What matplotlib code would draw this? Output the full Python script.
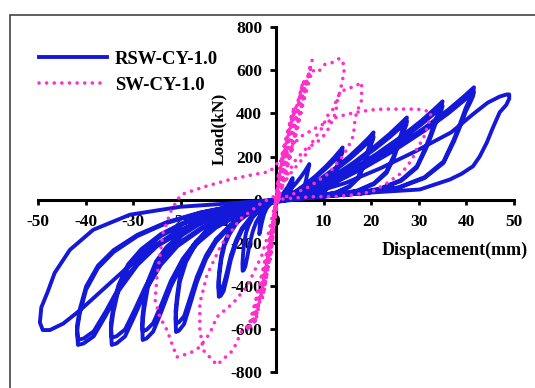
import numpy as np
import matplotlib.pyplot as plt
from matplotlib.patches import Rectangle

plt.rcParams['font.family'] = ['Liberation Serif', 'DejaVu Serif']
plt.rcParams['font.weight'] = 'bold'
plt.rcParams['axes.unicode_minus'] = False

# ---------------------------------------------------------------
# RSW-CY-1.0 : each cycle as displacement (mm) / load (kN)
# ---------------------------------------------------------------
rsw_3mm_x = [0, 0.7, 1.6, 2.5, 3.1, 3.5, 3.4, 3.2, 2.8, 2.3, 1.4, 0.5, 0,
             -0.9, -1.8, -2.5, -3.0, -3.3, -3.5, -3.4, -3.2, -2.8, -2.2, -1.4, -0.5, 0]
rsw_3mm_y = [0, 10, 32, 60, 84, 100, 76, 48, 27, 14, 6, 2, -2,
             -11, -32, -67, -109, -144, -160, -115, -67, -38, -19, -9, -3, 0]

rsw_7mm_x = [0, 1.05, 2.1, 3.15, 4.2, 5.25, 6.09, 6.65, 6.93, 7,
             6.97, 6.86, 6.72, 6.51, 6.3, 5.92, 5.25, 4.34, 3.15, 1.75, 0.7, 0,
             -1.05, -2.1, -3.15, -4.2, -4.9, -5.53, -6.02, -6.44, -6.79, -7,
             -7.04, -6.93, -6.72, -6.3, -5.74, -4.9, -3.85, -2.66, -1.4, 0]
rsw_7mm_y = [0, 10, 26, 50, 76, 106, 132, 152, 163, 165,
             158, 149, 135, 112, 89, 56, 33, 18, 10, 5, 2, -3,
             -17, -40, -66, -106, -149, -205, -264, -310, -327, -330,
             -297, -257, -205, -155, -119, -83, -53, -30, -13, 0]

rsw_14mm_x = [0, 2.1, 4.2, 6.3, 8.4, 10.5, 12.2, 13.3, 13.9, 14,
              13.9, 13.7, 13.4, 13, 12.6, 11.8, 10.5, 8.7, 6.3, 3.5, 1.4, 0,
              -1.8, -3.6, -5.4, -7.2, -8.4, -9.5, -10.3, -11, -11.6, -12,
              -12.1, -11.9, -11.5, -10.8, -9.8, -8.4, -6.6, -4.6, -2.4, 0]
rsw_14mm_y = [0, 15, 39, 73, 111, 155, 194, 223, 238, 242,
              232, 218, 198, 165, 131, 82, 48, 27, 15, 7, 2, -5,
              -23, -54, -90, -144, -203, -280, -361, -424, -446, -451,
              -406, -352, -280, -212, -162, -113, -72, -41, -18, 0]
rsw_14mm_y2 = [0, 14, 36, 68, 104, 144, 180, 207, 222, 225,
               216, 203, 185, 153, 122, 77, 45, 25, 14, 7, 2, -5,
               -21, -50, -84, -134, -189, -260, -336, -395, -416, -420,
               -378, -328, -260, -197, -151, -105, -67, -38, -17, 0]

rsw_21mm_x = [0, 3.1, 6.2, 9.2, 12.3, 15.4, 17.8, 19.5, 20.3, 20.5,
              20.4, 20.1, 19.7, 19.1, 18.5, 17.3, 15.4, 12.7, 9.2, 5.1, 2.1, 0,
              -3.2, -6.3, -9.5, -12.6, -14.7, -16.6, -18.1, -19.3, -20.4, -21,
              -21.1, -20.8, -20.2, -18.9, -17.2, -14.7, -11.6, -8, -4.2, 0]
rsw_21mm_y = [0, 19, 50, 94, 144, 200, 250, 287, 307, 312,
              300, 281, 256, 212, 168, 106, 62, 34, 19, 9, 3, -6,
              -31, -74, -123, -196, -276, -381, -491, -577, -608, -614,
              -553, -479, -381, -289, -221, -154, -98, -55, -25, 0]
rsw_21mm_y2 = [0, 18, 47, 88, 134, 187, 234, 269, 288, 292,
               280, 263, 239, 199, 158, 99, 58, 32, 18, 9, 3, -6,
               -29, -69, -115, -184, -259, -357, -460, -541, -569, -575,
               -518, -449, -357, -270, -207, -144, -92, -52, -23, 0]

rsw_28mm_x = [0, 4.1, 8.3, 12.4, 16.5, 20.6, 23.9, 26.1, 27.2, 27.5,
              27.4, 27, 26.4, 25.6, 24.8, 23.2, 20.6, 17.1, 12.4, 6.9, 2.8, 0,
              -4.2, -8.4, -12.6, -16.8, -19.6, -22.1, -24.1, -25.8, -27.2, -28,
              -28.1, -27.7, -26.9, -25.2, -23, -19.6, -15.4, -10.6, -5.6, 0]
rsw_28mm_y = [0, 23, 61, 114, 175, 244, 305, 351, 375, 381,
              366, 343, 312, 259, 206, 130, 76, 42, 23, 11, 4, -8,
              -33, -78, -130, -208, -293, -404, -521, -612, -644, -651,
              -586, -508, -404, -306, -234, -163, -104, -59, -26, 0]
rsw_28mm_y2 = [0, 22, 58, 109, 167, 232, 290, 333, 357, 362,
               348, 326, 297, 246, 195, 123, 72, 40, 22, 11, 4, -8,
               -31, -73, -122, -195, -275, -378, -488, -573, -604, -610,
               -549, -476, -378, -287, -220, -153, -98, -55, -24, 0]

rsw_35mm_x = [0, 5.3, 10.5, 15.8, 21, 26.3, 30.5, 33.3, 34.7, 35,
              34.8, 34.3, 33.6, 32.6, 31.5, 29.6, 26.3, 21.7, 15.8, 8.8, 3.5, 0,
              -5.2, -10.4, -15.5, -20.7, -24.2, -27.3, -29.7, -31.7, -33.5, -34.5,
              -34.7, -34.2, -33.1, -31.1, -28.3, -24.2, -19, -13.1, -6.9, 0]
rsw_35mm_y = [0, 27, 73, 137, 210, 292, 365, 420, 449, 456,
              438, 410, 374, 310, 246, 155, 91, 50, 27, 14, 5, -9,
              -34, -81, -135, -216, -303, -418, -539, -634, -667, -674,
              -607, -526, -418, -317, -243, -169, -108, -61, -27, 0]
rsw_35mm_y2 = [0, 26, 70, 131, 200, 278, 348, 400, 428, 435,
               418, 392, 357, 296, 235, 148, 87, 48, 26, 13, 4, -9,
               -32, -77, -128, -205, -288, -397, -512, -602, -634, -640,
               -576, -499, -397, -301, -230, -160, -102, -58, -26, 0]

rsw_42mm_x = [0, 6.2, 12.5, 18.7, 25, 31.2, 36.2, 39.5, 41.2, 41.6,
              41.4, 40.8, 39.9, 38.7, 37.4, 35.2, 31.2, 25.8, 18.7, 10.4, 4.2, 0,
              -6.2, -12.5, -18.7, -25, -29.1, -32.9, -35.8, -38.3, -40.4, -41.6,
              -41.8, -41.2, -39.9, -37.4, -34.1, -29.1, -22.9, -15.8, -8.3, 0]
rsw_42mm_y = [0, 31, 83, 156, 240, 333, 417, 479, 513, 521,
              500, 469, 427, 354, 281, 177, 104, 57, 31, 16, 5, -10,
              -34, -81, -135, -216, -303, -418, -539, -634, -667, -674,
              -607, -526, -418, -317, -243, -169, -108, -61, -27, 0]
rsw_42mm_y2 = [0, 30, 80, 150, 230, 320, 400, 460, 493, 500,
               480, 450, 410, 340, 270, 170, 100, 55, 30, 15, 5, -10,
               -33, -78, -130, -208, -293, -403, -520, -611, -644, -650,
               -585, -507, -403, -306, -234, -163, -104, -59, -26, 0]

rsw_49mm_x = [0, 7.4, 14.7, 22, 29.4, 36.8, 41.6, 44.5, 47, 48.5, 49,
              49, 48.4, 47, 45.5, 44.3, 42.8, 41.4, 39, 36.5, 30.2, 20, 10, 0,
              -7, -14, -21, -28, -33, -37, -41, -44.7, -47.5, -49,
              -49.6, -49.3, -48, -46.5, -43.3, -38.4, -30.7, -20, -7.5, 0]
rsw_49mm_y = [0, 29, 78, 146, 225, 312, 400, 450, 478, 488, 488,
              468, 440, 405, 330, 265, 200, 155, 120, 93, 47, 33, 15, -10,
              -30, -80, -150, -250, -350, -430, -510, -575, -605, -605,
              -570, -500, -430, -340, -233, -140, -70, -33, -14, 0]

# ---------------------------------------------------------------
# SW-CY-1.0
# ---------------------------------------------------------------
sw_small_1 = [(0, 0), (0.6, 80), (1.2, 180), (1.5, 230), (1.0, 170), (0.3, 60), (0, -20),
              (-0.4, -110), (-0.9, -220), (-1.2, -280), (-0.8, -200), (-0.2, -70), (0, 0)]
sw_small_2 = [(0, 0), (1.0, 100), (2.0, 220), (3.0, 350), (3.4, 400), (2.6, 330), (1.5, 230),
              (0.4, 100), (0, -20), (-0.7, -150), (-1.5, -280), (-2.3, -400), (-2.7, -440),
              (-2.0, -360), (-1.0, -230), (0, -60), (0.2, 0)]
sw_small_2b = [(0.2, 0), (1.3, 120), (2.4, 250), (3.3, 370), (3.8, 430), (3.0, 360),
               (1.9, 260), (0.7, 120), (0, 0), (-0.9, -170), (-1.8, -310), (-2.6, -420),
               (-3.0, -470), (-2.3, -390), (-1.2, -250), (-0.2, -80), (0.3, 0)]
sw_small_3 = [(0.2, 0), (1.5, 110), (3.0, 240), (4.3, 380), (5.2, 500), (5.6, 540), (4.8, 470),
              (3.5, 380), (2.0, 260), (0.6, 110), (0, 0), (-0.9, -150), (-2.0, -300),
              (-3.2, -450), (-4.0, -540), (-4.4, -570), (-3.6, -480), (-2.4, -350),
              (-1.0, -190), (0, -50), (0.4, 0)]
sw_small_3b = [(0.4, 0), (1.9, 130), (3.4, 270), (4.6, 400), (5.6, 520), (6.0, 560), (5.0, 480),
               (3.8, 390), (2.4, 280), (1.0, 140), (0.1, 10), (-1.1, -170), (-2.3, -330),
               (-3.5, -470), (-4.3, -550), (-4.7, -580), (-3.9, -500), (-2.7, -370),
               (-1.3, -210), (-0.1, -40), (0.5, 0)]
sw_small_4 = [(0.4, 0), (2.0, 120), (3.8, 260), (5.2, 400), (6.3, 520), (7.2, 620), (7.6, 646),
              (7.0, 590), (6.0, 520), (4.5, 420), (3.0, 300), (1.5, 170), (0.2, 20), (-0.5, -80),
              (-1.5, -230), (-2.8, -390), (-4.0, -500), (-5.2, -580), (-6.0, -610), (-5.4, -560),
              (-4.3, -470), (-2.8, -330), (-1.3, -180), (0, -40), (0.5, 0)]
sw_small_4b = [(0.5, 0), (2.3, 150), (4.0, 300), (5.5, 450), (6.6, 560), (7.3, 610), (6.6, 560),
               (5.4, 470), (3.8, 350), (2.2, 220), (0.6, 60), (-0.3, -60), (-1.2, -200),
               (-2.4, -360), (-3.6, -480), (-4.8, -560), (-5.5, -590), (-4.6, -510),
               (-3.2, -380), (-1.8, -240), (-0.4, -80), (0.3, 0)]
sw_cycle_13mm = [(0.3, 0), (2.0, 130), (4.0, 300), (6.0, 470), (7.6, 600), (8.8, 590),
                 (10.3, 628), (12, 637), (13.4, 656), (14.1, 637), (14.3, 595), (13.9, 544),
                 (13.4, 498), (12.8, 451), (12.6, 409), (12, 372), (10.9, 325), (9.9, 293),
                 (8.8, 270), (6.1, 232), (4, 180), (2, 100), (0.3, 0),
                 (-1, -200), (-2.5, -380), (-4, -500), (-5.5, -580), (-7.1, -605), (-9, -698),
                 (-12.4, -767), (-15.3, -698), (-16, -600), (-16, -480), (-14.5, -350),
                 (-11.5, -210), (-7.5, -90), (-3, -15), (0, 20)]
sw_cycle_18mm = [(0, 20), (3, 120), (6, 200), (8, 280), (9.9, 340), (10.7, 386), (12, 420),
                 (13, 479), (14.5, 512), (16.6, 525), (18, 544), (18, 498), (17.9, 451),
                 (17, 409), (16.6, 372), (16.4, 325), (16, 279), (14, 200), (11, 120),
                 (7, 60), (3, 20), (0, 0),
                 (-1.5, -150), (-3, -260), (-6, -400), (-9, -480), (-12.4, -544), (-13.9, -620),
                 (-16, -684), (-18, -711), (-20.8, -730), (-21.6, -684), (-22.9, -605),
                 (-24.4, -544), (-25.4, -465), (-25, -358), (-24.4, -265), (-23.7, -153),
                 (-22, -50), (-20, 23), (-15, 60), (-9.7, 93), (-5, 115), (-1.3, 130)]
sw_cycle_33mm = [(-1.3, 130), (2, 210), (5, 290), (9, 340), (13, 385), (16.6, 404), (20, 416),
                 (22.5, 420), (25, 420), (28, 420), (30.7, 418), (32.6, 405), (32, 349),
                 (30.9, 279), (29.8, 246), (28.6, 186), (26.5, 126), (23.5, 79), (20.2, 37),
                 (16.6, 23), (12.4, 14), (8.2, 14), (4, 8), (0, 0)]

rsw_x = np.concatenate([rsw_3mm_x, rsw_7mm_x, rsw_14mm_x, rsw_14mm_x, rsw_21mm_x, rsw_21mm_x,
                        rsw_28mm_x, rsw_28mm_x, rsw_35mm_x, rsw_35mm_x, rsw_42mm_x,
                        rsw_42mm_x, rsw_49mm_x])
rsw_y = np.concatenate([rsw_3mm_y, rsw_7mm_y, rsw_14mm_y, rsw_14mm_y2, rsw_21mm_y, rsw_21mm_y2,
                        rsw_28mm_y, rsw_28mm_y2, rsw_35mm_y, rsw_35mm_y2, rsw_42mm_y,
                        rsw_42mm_y2, rsw_49mm_y])

sw_cycles = [sw_small_1, sw_small_2, sw_small_2b, sw_small_3, sw_small_3b, sw_small_4,
             sw_small_4b, sw_cycle_13mm, sw_cycle_18mm, sw_cycle_33mm]
sw = np.array([p for c in sw_cycles for p in c], dtype=float)

# ---------------------------------------------------------------
# plotting
# ---------------------------------------------------------------
fig = plt.figure(figsize=(5.35, 3.88), dpi=100)
ax = fig.add_axes([0.071, 0.041, 0.8897, 0.889])

ax.plot(rsw_x, rsw_y, color='#1418d8', lw=2.8, solid_joinstyle='round',
        label='RSW-CY-1.0', zorder=3)
ax.plot(sw[:, 0], sw[:, 1], color='#ff2fcb', lw=2.6, linestyle=(0, (0.01, 2.1)),
        dash_capstyle='round', label='SW-CY-1.0', zorder=4)

ax.set_xlim(-50, 50)
ax.set_ylim(-800, 800)
ax.set_xticks(np.arange(-50, 51, 10))
ax.set_yticks(np.arange(-800, 801, 200))

for side in ['top', 'right']:
    ax.spines[side].set_visible(False)
ax.spines['left'].set_position(('data', 0))
ax.spines['bottom'].set_position(('data', 0))
ax.spines['left'].set_linewidth(2.2)
ax.spines['bottom'].set_linewidth(2.2)

ax.tick_params(axis='x', direction='out', length=3.5, width=2, labelsize=12.5, pad=7)
ax.tick_params(axis='y', direction='out', length=4, width=2, labelsize=12.5, pad=6)
for lab in ax.get_xticklabels() + ax.get_yticklabels():
    lab.set_fontweight('bold')

fig.text(0.850, 0.356, 'Displacement(mm)', ha='center', va='center',
         fontsize=13, fontweight='bold')
fig.text(0.409, 0.667, 'Load(kN)', ha='center', va='center', rotation=90,
         fontsize=12.5, fontweight='bold')

ax.legend(loc='upper left', bbox_to_anchor=(0.073, 0.869), bbox_transform=fig.transFigure,
          frameon=False, fontsize=13.5, handlelength=3.6, handletextpad=0.43,
          labelspacing=0.45, borderpad=0, borderaxespad=0)

# frame around the whole picture
fig.patches.append(Rectangle((10 / 535, -0.05), 1.1, 1 - 15 / 388 + 0.05,
                             transform=fig.transFigure, fill=False,
                             edgecolor='#444444', lw=1.2, zorder=0))

fig.savefig('out.png', dpi=100)
plt.close(fig)
